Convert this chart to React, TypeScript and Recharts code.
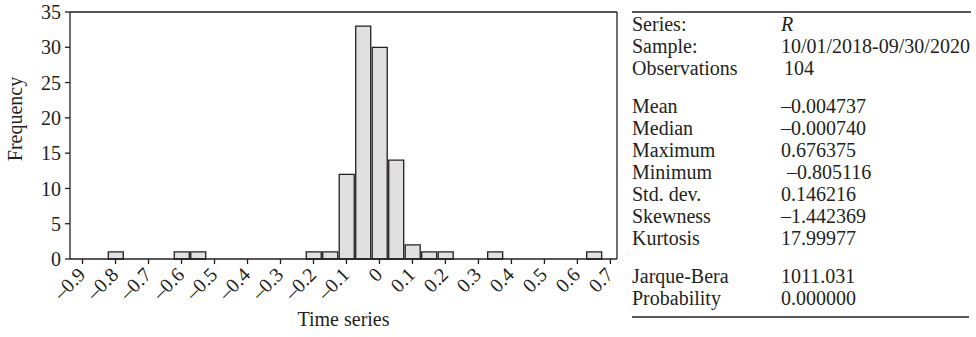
import React from 'react';
import { BarChart, Bar, XAxis, YAxis, ReferenceLine } from 'recharts';

// histogram of R (bin centres, width 0.05)
const binCenters = [-0.8, -0.6, -0.55, -0.2, -0.15, -0.1, -0.05, 0, 0.05, 0.1, 0.15, 0.2, 0.35, 0.65];
const frequencies = [1, 1, 1, 1, 1, 12, 33, 30, 14, 2, 1, 1, 1, 1];

const xTicks = [-0.9, -0.8, -0.7, -0.6, -0.5, -0.4, -0.3, -0.2, -0.1, 0, 0.1, 0.2, 0.3, 0.4, 0.5, 0.6, 0.7];
const yTicks = [0, 5, 10, 15, 20, 25, 30, 35];

// summary statistics table
const statLabels = [
  ['Series:', 'Sample:', 'Observations'],
  ['Mean', 'Median', 'Maximum', 'Minimum', 'Std. dev.', 'Skewness', 'Kurtosis'],
  ['Jarque-Bera', 'Probability'],
];
const statValues = [
  ['R', '10/01/2018-09/30/2020', '104'],
  ['–0.004737', '–0.000740', '0.676375', '–0.805116', '0.146216', '–1.442369', '17.99977'],
  ['1011.031', '0.000000'],
];

const data = binCenters.map((b, i) => ({ bin: b, freq: frequencies[i] }));

const FONT = '"Liberation Serif", "Times New Roman", serif';
const INK = '#231f20';
const X_DOMAIN: [number, number] = [-0.938, 0.72];

const fmt = (v: number) => (v < 0 ? `–${Math.abs(v)}` : `${v}`);

const XTick = (props: any) => {
  const { x, y, payload } = props;
  const px = x + 4;
  const py = y + 10;
  return (
    <text
      x={px}
      y={py}
      transform={`rotate(-45 ${px} ${py})`}
      textAnchor="end"
      fontFamily={FONT}
      fontSize={20}
      fill={INK}
    >
      {fmt(payload.value)}
    </text>
  );
};

const StatsTable = () => {
  let row = 0;
  const items: React.ReactNode[] = [];
  statLabels.forEach((group, g) => {
    group.forEach((label, k) => {
      const y = 31 + row * 22 + g * 16;
      const val = statValues[g][k];
      // a couple of values sit slightly indented in the original
      const dx = val === '104' ? 3 : val === '–0.805116' ? 6 : 0;
      items.push(
        <text key={`l${row}`} x={632} y={y}>{label}</text>,
        <text key={`v${row}`} x={781 + dx} y={y} fontStyle={val === 'R' ? 'italic' : 'normal'}>{val}</text>
      );
      row++;
    });
  });
  return (
    <g fontFamily={FONT} fontSize={20} fill={INK}>
      <line x1={632} x2={971} y1={12} y2={12} stroke={INK} strokeWidth={1.3} />
      {items}
      <line x1={632} x2={969} y1={317} y2={317} stroke={INK} strokeWidth={1.3} />
    </g>
  );
};

export default function App() {
  return (
    <div style={{ position: 'absolute', left: 0, top: 0, width: 976, height: 337, background: '#fff' }}>
      <BarChart
        width={976}
        height={337}
        data={data}
        margin={{ top: 12, right: 359, bottom: 0, left: 0 }}
      >
        <XAxis
          dataKey="bin"
          type="number"
          domain={X_DOMAIN}
          ticks={xTicks}
          allowDataOverflow
          interval={0}
          height={78}
          tickSize={5}
          tickMargin={2}
          tick={<XTick />}
          axisLine={{ stroke: INK, strokeWidth: 1.3 }}
          tickLine={{ stroke: INK, strokeWidth: 1.3 }}
          label={{ value: 'Time series', position: 'insideBottom', offset: 11, fontFamily: FONT, fontSize: 20, fill: INK }}
        />
        <YAxis
          type="number"
          domain={[0, 35]}
          ticks={yTicks}
          interval={0}
          width={70}
          tickSize={5}
          tickMargin={4}
          tick={{ fontFamily: FONT, fontSize: 20, fill: INK }}
          axisLine={{ stroke: INK, strokeWidth: 1.3 }}
          tickLine={{ stroke: INK, strokeWidth: 1.3 }}
        />
        <ReferenceLine y={35} stroke={INK} strokeWidth={1.3} />
        <ReferenceLine x={X_DOMAIN[1]} stroke={INK} strokeWidth={1.3} />
        <Bar dataKey="freq" barSize={15} fill="#e0e0e0" stroke={INK} strokeWidth={1.3} isAnimationActive={false} />
      </BarChart>
      <svg width={976} height={337} style={{ position: 'absolute', left: 0, top: 0, pointerEvents: 'none' }}>
        <text
          transform="translate(22 119) rotate(-90)"
          textAnchor="middle"
          fontFamily={FONT}
          fontSize={20}
          fill={INK}
        >
          Frequency
        </text>
        <StatsTable />
      </svg>
    </div>
  );
}
